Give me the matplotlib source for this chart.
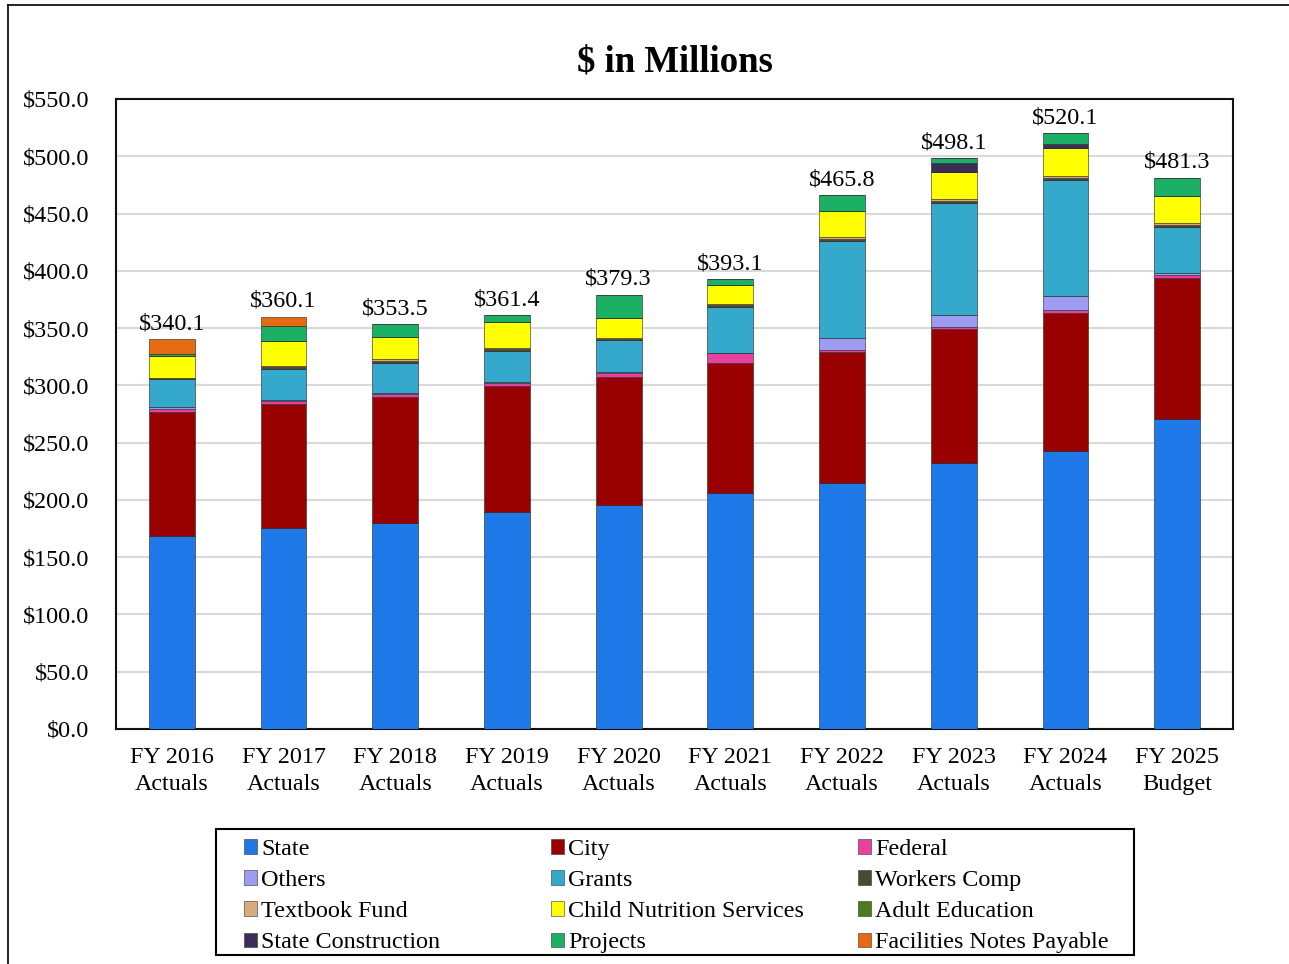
import matplotlib
matplotlib.use("Agg")
import matplotlib.pyplot as plt
import numpy as np
from matplotlib.lines import Line2D
from matplotlib.patches import Patch, Rectangle

plt.rcParams["font.family"] = ["Liberation Serif", "DejaVu Serif"]

years = ["FY 2016\nActuals", "FY 2017\nActuals", "FY 2018\nActuals", "FY 2019\nActuals",
         "FY 2020\nActuals", "FY 2021\nActuals", "FY 2022\nActuals", "FY 2023\nActuals",
         "FY 2024\nActuals", "FY 2025\nBudget"]
totals = [340.1, 360.1, 353.5, 361.4, 379.3, 393.1, 465.8, 498.1, 520.1, 481.3]

state = [168.5, 175.3, 179.8, 189.5, 195.5, 206.0, 214.8, 232.2, 242.7, 270.6]
city = [108.5, 108.2, 110.3, 110.2, 112.1, 113.8, 114.3, 116.7, 120.2, 122.8]
federal = [2.3, 2.6, 2.6, 2.6, 2.9, 8.1, 2.0, 1.7, 2.6, 2.6]
others = [2.2, 1.5, 1.0, 1.0, 1.0, 0.5, 10.0, 10.5, 12.5, 2.2]
grants = [24.0, 26.5, 26.0, 27.0, 28.0, 39.8, 85.0, 98.5, 101.5, 39.8]
workers_comp = [0.6, 1.5, 1.5, 1.3, 1.2, 1.6, 1.7, 1.7, 1.7, 2.0]
textbook = [0.4, 1.5, 1.8, 1.3, 1.0, 1.6, 1.8, 1.8, 1.8, 2.1]
child_nutrition = [19.2, 21.8, 18.9, 22.2, 16.9, 16.6, 22.5, 23.3, 24.4, 23.6]
adult_ed = [0, 0, 0, 0, 0, 0, 0, 0, 0, 0]
state_construction = [0, 0, 0, 0, 0, 0, 0, 7.9, 3.2, 0]
projects = [1.5, 13.1, 11.6, 6.3, 20.7, 5.1, 13.7, 3.8, 9.5, 15.7]
facilities = [12.9, 8.1, 0, 0, 0, 0, 0, 0, 0, 0]

names = ["State", "City", "Federal", "Others", "Grants", "Workers Comp", "Textbook Fund",
         "Child Nutrition Services", "Adult Education", "State Construction", "Projects",
         "Facilities Notes Payable"]
series = [state, city, federal, others, grants, workers_comp, textbook, child_nutrition,
          adult_ed, state_construction, projects, facilities]
colors = ["#1f78e8", "#990000", "#e8409f", "#9d9cf0", "#35a9cc", "#4b4a33", "#d8aa7e",
          "#ffff00", "#4c7a1f", "#3e2c58", "#1cb064", "#e66a12"]

W, H = 1289, 964
fig = plt.figure(figsize=(W / 100, H / 100), dpi=100)
ax = fig.add_axes([116 / W, 1 - 729 / H, (1233 - 116) / W, (729 - 99) / H])

x = np.arange(len(years))
bottom = np.zeros(len(years))
for vals, c in zip(series, colors):
    vals = np.array(vals, dtype=float)
    ax.bar(x, vals, 0.41, bottom=bottom, color=c, edgecolor="#222222", linewidth=0.4, zorder=3)
    bottom += vals

for xi, t, b in zip(x, totals, bottom):
    ax.text(xi, b + 4, f"${t:.1f}", ha="center", va="bottom", fontsize=17.4)

ax.set_xlim(-0.5, 9.5)
ax.set_ylim(0, 550)
ax.set_yticks(np.arange(0, 551, 50))
ax.set_yticklabels([f"${v:.1f}" for v in np.arange(0, 551, 50)], fontsize=17.4)
ax.set_xticks(x)
ax.set_xticklabels(years, fontsize=17.4, linespacing=1.35)
ax.tick_params(axis="y", length=0, pad=19)
ax.tick_params(axis="x", length=0, pad=13)
ax.grid(axis="y", color="#d9d9d9", linewidth=1.5, zorder=0)
for s in ax.spines.values():
    s.set_color("#111111")
    s.set_linewidth(1.5)

fig.text(675 / W, 1 - 62 / H, "$ in Millions", ha="center", va="center", fontsize=26.5, fontweight="bold")

# legend: frame plus three columns so the columns are equally spaced
fig.add_artist(Rectangle((216 / W, 1 - 955 / H), (1134 - 216) / W, (955 - 829) / H,
                         transform=fig.transFigure, facecolor="none", edgecolor="black", linewidth=1.5))
col_x = [244, 551, 858]
for k, cx in enumerate(col_x):
    idx = [k, k + 3, k + 6, k + 9]
    handles = [Patch(facecolor=colors[i], edgecolor="#333333", linewidth=0.4) for i in idx]
    fig.legend(handles, [names[i] for i in idx], loc="upper left",
               bbox_to_anchor=(cx / W, 1 - 839 / H), bbox_transform=fig.transFigure,
               fontsize=17.4, frameon=False, handlelength=0.55, handleheight=0.55,
               handletextpad=0.15, labelspacing=0.42, borderpad=0.0, borderaxespad=0.0)

# outer frame of the chart
fig.add_artist(Line2D([8 / W, 1], [1 - 5 / H, 1 - 5 / H], color="black", linewidth=1.2))
fig.add_artist(Line2D([8 / W, 8 / W], [0, 1 - 5 / H], color="black", linewidth=1.2))

fig.savefig("out.png", dpi=100)
